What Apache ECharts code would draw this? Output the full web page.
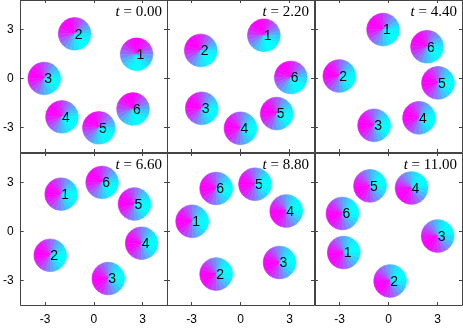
<!DOCTYPE html>
<html>
<head>
<meta charset="utf-8">
<script src="https://cdn.jsdelivr.net/npm/echarts@6/dist/echarts.min.js"></script>
<style>
  html, body { margin: 0; padding: 0; background: #fff; }
  #chart { width: 463px; height: 329px; }
</style>
</head>
<body>
<div id="chart"></div>
<script>
// snapshot times
const times = ["0.00", "2.20", "4.40", "6.60", "8.80", "11.00"];
// particle positions per snapshot (particles 1..6)
const xPos = [
  [2.63, -1.18, -3.05, -1.96, 0.31, 2.41],
  [1.43, -2.43, -2.37, 0.0, 2.22, 3.08],
  [-0.33, -3.01, -0.88, 1.87, 3.03, 2.36],
  [-2.01, -2.68, 0.89, 2.94, 2.5, 0.51],
  [-2.96, -1.49, 2.39, 2.8, 0.89, -1.49],
  [-2.74, 0.1, 3.01, 1.41, -1.13, -2.82],
];
const yPos = [
  [1.48, 2.73, 0.0, -2.35, -3.02, -1.87],
  [2.64, 1.71, -1.83, -3.05, -2.15, 0.06],
  [2.99, 0.15, -2.87, -2.41, -0.27, 1.94],
  [2.28, -1.46, -2.88, -0.72, 1.68, 3.0],
  [0.62, -2.61, -1.9, 1.25, 2.89, 2.63],
  [-1.29, -3.03, -0.28, 2.66, 2.79, 1.1],
];
// heading of the magenta side, degrees (counter-clockwise from +x)
const heading = [
  [95, 135, 160, 150, 135, 115],
  [120, 140, 160, 175, 165, 130],
  [150, 165, 175, 170, 175, 150],
  [170, 170, 190, 180, 170, 150],
  [180, 195, 190, 200, 180, 175],
  [200, 205, 215, 215, 200, 195],
];
const tickValues = [-3, 0, 3];

const chart = echarts.init(document.getElementById("chart"));

const colLeft = [20, 167, 315];
const colWidth = 147;
const rowTop = [0, 153];
const rowHeight = 152;

const lineColor = "#444";

function mixColor(t) {
  const r = Math.round(255 * (1 - t));
  const g = Math.round(255 * t);
  return "rgb(" + r + "," + g + ",255)";
}

function renderItem(params, api) {
  const c = api.coord([api.value(0), api.value(1)]);
  const rad = api.size([1, 1])[0];
  const phi = (api.value(2) * Math.PI) / 180;
  const n = 20;
  const children = [];
  for (let k = 0; k < n; k++) {
    // wedge k spans math angles th0..th1 (y up)
    const th0 = (k * 2 * Math.PI) / n;
    const th1 = ((k + 1) * 2 * Math.PI) / n;
    const mid = (th0 + th1) / 2;
    const t = (1 - Math.cos(mid - phi)) / 2;
    const col = mixColor(t);
    const pts = [[c[0], c[1]]];
    for (let s = 0; s <= 3; s++) {
      const th = th0 + ((th1 - th0) * s) / 3;
      pts.push([c[0] + rad * Math.cos(th), c[1] - rad * Math.sin(th)]);
    }
    children.push({
      type: "polygon",
      shape: { points: pts },
      style: { fill: col, stroke: col, lineWidth: 0.6 },
    });
  }
  children.push({
    type: "text",
    style: {
      text: String(params.dataIndex + 1),
      x: c[0],
      y: c[1] + 1,
      align: "left",
      verticalAlign: "middle",
      font: '14px "Liberation Sans"',
      fill: "#000",
    },
  });
  return { type: "group", children };
}

const grids = [], xAxes = [], yAxes = [], series = [], titles = [];

for (let p = 0; p < 6; p++) {
  const col = p % 3, row = Math.floor(p / 3);
  grids.push({
    left: colLeft[col],
    top: rowTop[row],
    width: colWidth,
    height: rowHeight,
    containLabel: false,
  });
  const common = {
    min: -4.5,
    max: 4.5,
    axisLine: { show: true, onZero: false, lineStyle: { color: lineColor, width: 1 } },
    axisTick: { show: true, inside: true, length: 3, customValues: tickValues, lineStyle: { color: lineColor } },
    splitLine: { show: false },
  };
  xAxes.push({
    ...common,
    type: "value",
    gridIndex: p,
    position: "bottom",
    axisLabel: {
      show: row === 1,
      customValues: tickValues,
      margin: 9,
      color: "#000",
      fontSize: 12,
      fontFamily: "Liberation Sans",
    },
  });
  yAxes.push({
    ...common,
    type: "value",
    min: -4.5,
    max: 4.8,
    gridIndex: p,
    position: "left",
    axisLabel: {
      show: col === 0,
      customValues: tickValues,
      margin: 7,
      color: "#000",
      fontSize: 12,
      fontFamily: "Liberation Sans",
    },
  });
  series.push({
    type: "custom",
    xAxisIndex: p,
    yAxisIndex: p,
    renderItem: renderItem,
    data: xPos[p].map((x, i) => [x, yPos[p][i], heading[p][i]]),
    clip: false,
  });
  titles.push({
    text: "{i|t} = " + times[p],
    right: 463 - (colLeft[col] + colWidth) + 5,
    top: rowTop[row] + 5,
    padding: 0,
    textStyle: {
      fontFamily: "Liberation Serif",
      fontSize: 15,
      fontWeight: "normal",
      color: "#000",
      rich: { i: { fontStyle: "italic", fontFamily: "Liberation Serif", fontSize: 15, color: "#000" } },
    },
  });
}

// mirrored axes (top / right) for inner ticks
for (let p = 0; p < 6; p++) {
  xAxes.push({
    type: "value",
    gridIndex: p,
    position: "top",
    min: -4.5,
    max: 4.5,
    axisLine: { show: true, onZero: false, lineStyle: { color: lineColor } },
    axisTick: { show: true, inside: true, length: 3, customValues: tickValues, lineStyle: { color: lineColor } },
    axisLabel: { show: false },
    splitLine: { show: false },
  });
  yAxes.push({
    type: "value",
    gridIndex: p,
    position: "right",
    min: -4.5,
    max: 4.8,
    axisLine: { show: true, onZero: false, lineStyle: { color: lineColor } },
    axisTick: { show: true, inside: true, length: 3, customValues: tickValues, lineStyle: { color: lineColor } },
    axisLabel: { show: false },
    splitLine: { show: false },
  });
}

chart.setOption({
  animation: false,
  backgroundColor: "#fff",
  title: titles,
  grid: grids,
  xAxis: xAxes,
  yAxis: yAxes,
  series: series,
});
</script>
</body>
</html>
